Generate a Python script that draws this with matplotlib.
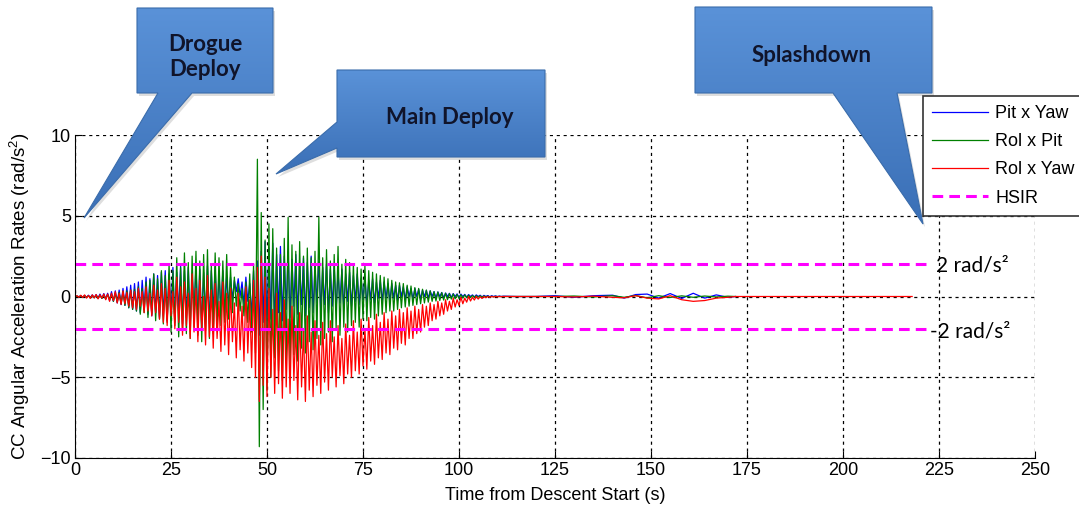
import numpy as np
import matplotlib
matplotlib.use("Agg")
import matplotlib.pyplot as plt
from matplotlib.patches import Polygon

# =========================================================
# DATA  (sample step 0.5 s)
# =========================================================

SAMPLE_STEP = 0.5

pit_yaw = [
    0, 0.03, -0.02, 0.05, -0.04, 0.06, -0.05, 0.08, -0.06, 0.1, -0.08, 0.12, -0.1, 0.15, -0.12, 0.18,
    -0.15, 0.2, -0.25, 0.3, -0.3, 0.35, -0.4, 0.4, -0.5, 0.5, -0.55, 0.6, -0.7, 0.7, -0.8, 0.8,
    -0.9, 0.9, -1.0, 1.0, -0.8, 1.2, -1.1, 1.1, -1.2, 1.4, -1.0, 1.3, -1.3, 1.5, -1.2, 1.6,
    -1.5, 1.4, -1.2, 1.8, -1.6, 1.5, -1.0, 1.9, -1.7, 1.6, -1.3, 1.8, -1.8, 1.4, -1.1, 1.9,
    -1.6, 1.7, -1.9, 1.5, -1.3, 1.9, -1.7, 1.6, -1.0, 1.8, -1.5, 1.4, -0.8, 1.6, -1.2, 1.3,
    -0.6, 1.2, -0.2, 1.0, 0.3, 1.1, 0.0, 0.9, -0.5, 1.2, -0.3, 0.8, -1.2, 1.6, -2.0, 2.2,
    -2.4, 2.8, -1.6, 3.4, -2.0, 3.0, -1.4, 3.3, -1.8, 2.6, -1.0, 3.1, -1.5, 2.5, -0.8, 2.8,
    -1.3, 2.3, -0.6, 2.6, -1.1, 2.0, -0.5, 2.4, -1.2, 2.1, -0.7, 2.5, -1.0, 1.9, -0.4, 2.2,
    -0.9, 1.8, -0.5, 2.0, -1.0, 1.7, -0.6, 1.9, -0.8, 1.5, -0.4, 1.7, -0.7, 1.4, -0.3, 1.5,
    -0.6, 1.3, -0.3, 1.4, -0.5, 1.1, -0.2, 1.2, -0.5, 1.0, -0.2, 1.1, -0.4, 0.9, -0.1, 1.0,
    -0.3, 0.9, -0.1, 0.8, -0.3, 0.8, -0.1, 0.7, -0.25, 0.7, 0.0, 0.6, -0.2, 0.6, 0.0, 0.5,
    -0.15, 0.5, 0.0, 0.45, -0.15, 0.4, 0.0, 0.38, -0.1, 0.35, 0.0, 0.3, -0.1, 0.28, 0.0, 0.25,
    -0.08, 0.22, 0.0, 0.2, -0.06, 0.18, 0.0, 0.16, -0.05, 0.15, 0.0, 0.13, -0.04, 0.12, 0.0, 0.1,
    -0.03, 0.1, 0.0, 0.08, -0.03, 0.07, 0.0, 0.06, -0.02, 0.05, 0.0, 0.04, -0.01, 0.03, 0.0, 0.02,
]

rol_pit = [
    0, 0.02, -0.02, 0.03, -0.04, 0.05, -0.05, 0.04, -0.07, 0.06, -0.08, 0.07, -0.1, 0.08, -0.12, 0.1,
    -0.15, 0.12, -0.2, 0.15, -0.3, 0.2, -0.35, 0.25, -0.45, 0.3, -0.55, 0.35, -0.7, 0.4, -0.8, 0.45,
    -0.9, 0.6, -1.1, 0.5, -1.0, 0.9, -1.3, 1.0, -1.1, 1.4, -1.5, 1.1, -1.4, 1.6, -1.7, 1.3,
    -1.6, 2.0, -2.2, 1.6, -1.8, 2.4, -2.5, 1.8, -2.0, 2.7, -2.3, 2.1, -2.6, 2.5, -1.9, 2.8,
    -2.4, 2.2, -2.8, 2.6, -2.1, 2.9, -2.6, 2.0, -2.3, 2.7, -2.0, 2.4, -1.8, 2.2, -1.6, 2.6,
    -1.4, 1.8, -1.0, 1.2, -0.6, 0.8, -0.9, 0.5, -1.2, 0.9, -1.6, 1.4, -2.2, 2.0, -3.5, 8.5,
    -9.3, 5.2, -7.0, 3.5, -5.8, 4.5, -5.0, 4.2, -3.8, 3.0, -4.6, 2.6, -5.2, 3.6, -4.0, 4.9,
    -4.5, 3.2, -3.6, 2.8, -4.0, 3.4, -3.2, 2.5, -3.5, 3.0, -2.8, 2.4, -3.3, 2.8, -2.6, 4.9,
    -3.0, 2.4, -2.6, 2.9, -2.2, 2.2, -2.8, 2.6, -2.0, 3.1, -2.4, 2.0, -1.9, 2.3, -2.2, 2.1,
    -1.8, 2.0, -1.6, 1.8, -1.9, 1.7, -1.4, 1.9, -1.5, 1.6, -1.3, 1.5, -1.4, 1.4, -1.2, 1.3,
    -1.1, 1.2, -1.0, 1.1, -0.9, 1.0, -0.9, 0.9, -0.8, 0.85, -0.7, 0.8, -0.65, 0.7, -0.6, 0.65,
    -0.55, 0.55, -0.5, 0.5, -0.45, 0.45, -0.4, 0.4, -0.35, 0.35, -0.3, 0.3, -0.28, 0.28, -0.25, 0.24,
    -0.22, 0.2, -0.2, 0.18, -0.16, 0.16, -0.14, 0.13, -0.12, 0.11, -0.1, 0.1, -0.08, 0.08, -0.07, 0.06,
    -0.05, 0.05, -0.04, 0.04, -0.03, 0.03, -0.02, 0.02, -0.02, 0.01, -0.01, 0.01, 0.0, 0.0, 0.0, 0.0,
]

rol_yaw = [
    0, 0.05, -0.05, 0.08, -0.06, 0.1, -0.1, 0.06, -0.12, 0.1, -0.08, 0.12, -0.15, 0.1, -0.1, 0.15,
    -0.2, 0.15, -0.3, 0.2, -0.25, 0.3, -0.4, 0.2, -0.5, 0.35, -0.45, 0.25, -0.6, 0.4, -0.7, 0.3,
    -0.8, 0.5, -0.6, 0.3, -1.0, 0.6, -0.9, 0.2, -1.2, 0.7, -1.0, 0.4, -1.4, 0.8, -1.6, 0.5,
    -1.8, 1.0, -1.2, 0.3, -2.0, 1.2, -1.6, 0.6, -2.4, 0.9, -1.8, 0.2, -2.6, 1.4, -2.2, 0.5,
    -2.8, 1.0, -2.0, 0.0, -3.0, 1.3, -2.5, 0.4, -3.2, 0.8, -2.6, -0.3, -3.4, 0.9, -3.0, 0.2,
    -3.6, 0.5, -2.8, -0.4, -3.8, 0.2, -3.3, -0.6, -4.0, 0.6, -3.5, -0.2, -4.4, 1.0, -5.0, 1.8,
    -6.5, 2.5, -5.5, 1.2, -6.2, 0.5, -5.0, -0.8, -6.0, 0.2, -5.4, -1.0, -6.3, -0.2, -5.6, -1.4,
    -6.0, -0.6, -5.2, -1.8, -6.4, -1.0, -5.6, -2.0, -6.5, -1.2, -5.8, -2.2, -6.2, -1.5, -5.5, -2.4,
    -6.0, -1.6, -5.3, -2.3, -5.8, -1.5, -5.0, -2.5, -5.6, -1.8, -4.9, -2.6, -5.4, -1.7, -4.8, -2.4,
    -5.0, -1.5, -4.6, -2.2, -4.8, -1.4, -4.3, -2.0, -4.5, -1.3, -4.0, -1.8, -4.2, -1.1, -3.8, -1.6,
    -3.9, -1.0, -3.5, -1.4, -3.6, -0.9, -3.2, -1.2, -3.3, -0.8, -2.9, -1.0, -3.0, -0.7, -2.6, -0.9,
    -2.6, -0.6, -2.3, -0.8, -2.2, -0.5, -1.9, -0.6, -1.8, -0.4, -1.5, -0.5, -1.4, -0.3, -1.2, -0.4,
    -1.1, -0.2, -0.9, -0.3, -0.8, -0.1, -0.65, -0.2, -0.55, -0.05, -0.45, -0.1, -0.35, 0.0, -0.28, -0.05,
    -0.22, 0.0, -0.16, -0.02, -0.12, 0.0, -0.08, 0.0, -0.05, 0.0, -0.03, 0.0, -0.02, 0.0, -0.01, 0.0,
]

# quiet part after 112 s
tail_t = [115, 120, 125, 130, 135, 140, 143, 146, 149, 152, 155, 158, 161, 164, 167, 170, 172]
pit_yaw_tail = [0, 0, 0.05, -0.05, 0.05, 0.08, -0.1, 0.12, 0.15, -0.1, 0.18, -0.12, 0.2, -0.1, 0.1, -0.05, 0.0]
rol_pit_tail = [0, 0, 0, 0.03, -0.03, 0.05, -0.05, 0.06, -0.08, 0.05, -0.06, 0.04, -0.05, 0.03, -0.03, 0.02, 0]
rol_yaw_tail = [0, 0, 0, -0.03, 0.02, -0.05, -0.08, 0.05, -0.1, -0.15, 0.05, -0.2, -0.3, -0.25, -0.1, -0.05, 0]
splash_t = 218
hsir_end = 222
hsir_level = 2

x_ticks = [0, 25, 50, 75, 100, 125, 150, 175, 200, 225, 250]
y_ticks = [-10, -5, 0, 5, 10]

# =========================================================
# FIGURE
# =========================================================

plt.rcParams["mathtext.fontset"] = "custom"
plt.rcParams["mathtext.rm"] = "Liberation Sans"
plt.rcParams["mathtext.it"] = "Liberation Sans:italic"

W, H = 1079, 516
fig = plt.figure(figsize=(W / 100, H / 100), dpi=100)
ax = fig.add_axes([75 / W, 1 - 458 / H, 960 / W, 323 / H])

narrow = ["Liberation Sans Narrow", "Liberation Sans", "DejaVu Sans"]

t_active = np.arange(len(rol_yaw)) * SAMPLE_STEP
t_all = np.concatenate([t_active, tail_t])

ax.plot(t_all, pit_yaw + pit_yaw_tail, color="#0000ff", lw=0.9, label="Pit x Yaw")
ax.plot(t_all, rol_pit + rol_pit_tail, color="#008000", lw=0.9, label="Rol x Pit")
ax.plot(np.append(t_all, splash_t), rol_yaw + rol_yaw_tail + [0],
        color="#ff0000", lw=0.9, label="Rol x Yaw")
ax.plot([0, hsir_end], [hsir_level, hsir_level], color="#ff00ff", lw=2.2,
        ls=(0, (3.5, 2)), label="HSIR")
ax.plot([0, hsir_end], [-hsir_level, -hsir_level], color="#ff00ff", lw=2.2,
        ls=(0, (3.5, 2)))

ax.set_xlim(0, 250)
ax.set_ylim(-10, 10)
ax.set_xticks(x_ticks)
ax.set_yticks(y_ticks)
ax.grid(True, color="black", ls=(0, (2.5, 3)), lw=0.9)
ax.spines["top"].set_visible(False)
ax.spines["right"].set_visible(False)
ax.tick_params(direction="in", length=5, labelsize=13, pad=3)
for lab in ax.get_xticklabels() + ax.get_yticklabels():
    lab.set_family(narrow)

ax.set_xlabel("Time from Descent Start (s)", fontsize=13, family=narrow, labelpad=6)
ax.set_ylabel("CC Angular Acceleration Rates (rad/s$^2$)", fontsize=13.5,
              family=["Liberation Sans", "DejaVu Sans"], labelpad=6)

# =========================================================
# CALLOUTS (pixel coordinates of the figure)
# =========================================================

over = fig.add_axes([0, 0, 1, 1], zorder=5)
over.axis("off")
over.patch.set_alpha(0)

grad = np.linspace(0, 1, 256).reshape(-1, 1)
cmap = matplotlib.colors.LinearSegmentedColormap.from_list("callout", ["#5a92d8", "#3a6fb6"])

callouts = [
    ([(137, 8), (273, 8), (273, 93), (192, 93), (84, 218), (158, 93), (137, 93)],
     (205, 57), "Drogue\nDeploy"),
    ([(337, 70), (545, 70), (545, 157), (337, 157), (337, 148), (276, 174), (337, 122)],
     (450, 117), "Main Deploy"),
    ([(695, 7), (932, 7), (932, 93), (897, 93), (923, 224), (833, 93), (695, 93)],
     (812, 56), "Splashdown"),
]

for pts, (tx, ty), label in callouts:
    shadow = Polygon([(x + 2, y + 3) for x, y in pts], closed=True,
                     facecolor="#c8c8c8", edgecolor="none", alpha=0.6, zorder=1)
    over.add_patch(shadow)
    poly = Polygon(pts, closed=True, facecolor="none", edgecolor="#3a6cab", lw=0.8, zorder=3)
    over.add_patch(poly)
    xs = [p[0] for p in pts]
    ys = [p[1] for p in pts]
    im = over.imshow(grad, cmap=cmap, aspect="auto", zorder=2, interpolation="bilinear",
                     extent=(min(xs), max(xs), max(ys), min(ys)))
    im.set_clip_path(poly)
    over.text(tx, ty, label, ha="center", va="center", fontsize=16,
              fontweight="bold", family=["Lato", "DejaVu Sans"], color="#10142a",
              linespacing=1.2, zorder=4)

# level labels
over.text(936, 265, "2 rad/s\u00b2", fontsize=15, family=["Lato", "DejaVu Sans"],
          va="center", ha="left", zorder=4)
over.text(930, 331, "-2 rad/s\u00b2", fontsize=15, family=["Lato", "DejaVu Sans"],
          va="center", ha="left", zorder=4)

over.set_xlim(0, W)
over.set_ylim(H, 0)

# =========================================================
# LEGEND
# =========================================================

handles, labels = ax.get_legend_handles_labels()
leg = fig.legend(handles, labels, loc="upper left", bbox_to_anchor=(923 / W, 1 - 96 / H),
                 prop={"family": narrow, "size": 13}, frameon=True, fancybox=False,
                 edgecolor="#333333", framealpha=1, handlelength=3.1, handletextpad=0.4,
                 borderpad=0.5, labelspacing=0.62, borderaxespad=0)
leg.set_zorder(10)
leg.get_frame().set_linewidth(1.2)

fig.savefig("out.png", dpi=100)
